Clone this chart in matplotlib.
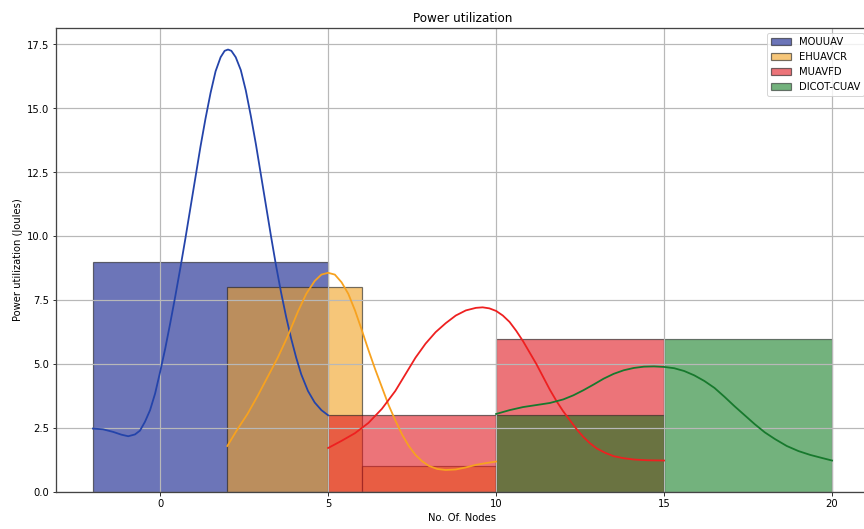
import numpy as np
import matplotlib
matplotlib.use("Agg")
import matplotlib.pyplot as plt

# histogram bins (edges) and bar heights per method
mou_edges = [-2, 5]
mou_heights = [9]
ehu_edges = [2, 6, 10]
ehu_heights = [8, 1]
muav_edges = [5, 10, 15]
muav_heights = [3, 6]
dicot_edges = [10, 15, 20]
dicot_heights = [3, 6]

# density curves
mou_kde_x = [-2.0, -1.7, -1.4, -1.15, -0.95, -0.75, -0.6, -0.45, -0.3, -0.15, 0.0, 0.15, 0.3,
             0.45, 0.6, 0.75, 0.9, 1.05, 1.2, 1.35, 1.5, 1.65, 1.8, 1.92, 2.02, 2.12, 2.25,
             2.4, 2.55, 2.7, 2.85, 3.0, 3.15, 3.3, 3.45, 3.6, 3.75, 3.9, 4.05, 4.2, 4.4, 4.6,
             4.8, 5.0]
mou_kde_y = [2.48, 2.45, 2.35, 2.24, 2.18, 2.25, 2.4, 2.75, 3.2, 3.85, 4.7, 5.6, 6.6,
             7.65, 8.75, 9.9, 11.1, 12.3, 13.5, 14.6, 15.6, 16.45, 17.0, 17.25, 17.3, 17.25, 17.0,
             16.5, 15.7, 14.7, 13.6, 12.4, 11.2, 10.0, 8.85, 7.8, 6.85, 6.0, 5.25, 4.6, 3.95, 3.5,
             3.2, 3.0]

ehu_kde_x = [2.0, 2.3, 2.6, 2.9, 3.2, 3.5, 3.8, 4.1, 4.35, 4.6, 4.8, 5.0, 5.2, 5.4, 5.6,
             5.8, 6.0, 6.2, 6.4, 6.6, 6.8, 7.0, 7.2, 7.4, 7.6, 7.8, 8.0, 8.25, 8.5, 8.8, 9.1,
             9.4, 9.7, 10.0]
ehu_kde_y = [1.8, 2.45, 3.05, 3.75, 4.5, 5.25, 6.1, 7.05, 7.75, 8.25, 8.5, 8.57, 8.5, 8.2, 7.75,
             7.1, 6.34, 5.55, 4.8, 4.1, 3.4, 2.8, 2.25, 1.8, 1.45, 1.2, 1.02, 0.9, 0.86, 0.88, 0.96,
             1.06, 1.13, 1.19]

muav_kde_x = [5.0, 5.4, 5.8, 6.2, 6.6, 7.0, 7.3, 7.6, 7.9, 8.2, 8.5, 8.8, 9.1, 9.4, 9.6, 9.8,
              10.0, 10.2, 10.4, 10.6, 10.8, 11.0, 11.2, 11.4, 11.6, 11.8, 12.0, 12.2, 12.4,
              12.6, 12.8, 13.0, 13.25, 13.5, 13.8, 14.1, 14.5, 15.0]
muav_kde_y = [1.72, 2.0, 2.3, 2.7, 3.25, 3.95, 4.6, 5.25, 5.8, 6.25, 6.6, 6.9, 7.1, 7.2, 7.22, 7.18,
              7.08, 6.9, 6.65, 6.3, 5.9, 5.45, 5.0, 4.5, 4.0, 3.55, 3.15, 2.8, 2.45,
              2.15, 1.9, 1.7, 1.53, 1.4, 1.32, 1.27, 1.24, 1.23]

dicot_kde_x = [10.0, 10.4, 10.8, 11.2, 11.6, 12.0, 12.3, 12.6, 12.9, 13.2, 13.5, 13.8, 14.1,
               14.4, 14.7, 15.0, 15.3, 15.6, 15.9, 16.2, 16.5, 16.8, 17.1, 17.4, 17.7, 18.0,
               18.3, 18.65, 19.0, 19.35, 19.7, 20.0]
dicot_kde_y = [3.05, 3.2, 3.32, 3.4, 3.48, 3.62, 3.78, 3.98, 4.2, 4.43, 4.62, 4.76, 4.85,
               4.9, 4.91, 4.89, 4.84, 4.73, 4.56, 4.34, 4.07, 3.72, 3.35, 3.0, 2.65, 2.33,
               2.07, 1.8, 1.6, 1.45, 1.33, 1.23]

labels = ["MOUUAV", "EHUAVCR", "MUAVFD", "DICOT-CUAV"]
bar_colors = ["#0a1a8a", "#f0a020", "#e01820", "#007313"]
bar_alphas = [0.6, 0.6, 0.6, 0.55]
line_colors = ["#2444aa", "#f7a21f", "#ee2020", "#17792d"]

series = [
    (mou_edges, mou_heights, mou_kde_x, mou_kde_y),
    (ehu_edges, ehu_heights, ehu_kde_x, ehu_kde_y),
    (muav_edges, muav_heights, muav_kde_x, muav_kde_y),
    (dicot_edges, dicot_heights, dicot_kde_x, dicot_kde_y),
]

fig = plt.figure(figsize=(12, 7.35), dpi=72)
ax = fig.add_axes([56 / 864, 37 / 529, (869 - 56) / 864, (492 - 28) / 529])

for (edges, heights, kx, ky), lab, bc, a in zip(series, labels, bar_colors, bar_alphas):
    edges = np.array(edges, dtype=float)
    ax.bar(edges[:-1], heights, width=np.diff(edges), align="edge", color=bc, alpha=a,
           edgecolor="#1a1a1a", linewidth=1.2, label=lab)

# curves on top of every bar
for (edges, heights, kx, ky), lc in zip(series, line_colors):
    ax.plot(kx, ky, color=lc, linewidth=1.8, zorder=3, solid_joinstyle="round")

ax.set_xlim(-3.1, 21.1)
ax.set_ylim(0, 18.15)
ax.set_xticks([0, 5, 10, 15, 20])
ax.set_yticks(np.arange(0, 17.6, 2.5))

ax.set_title("Power utilization", fontsize=12)
ax.set_xlabel("No. Of. Nodes", fontsize=10)
ax.set_ylabel("Power utilization (Joules)", fontsize=10)
ax.grid(True, color="#b8b8b8", linewidth=1.2)
for s in ax.spines.values():
    s.set_linewidth(1.3)
    s.set_color("#444444")

ax.legend(loc="upper right", fontsize=10)

fig.savefig("out.png", dpi=72)
